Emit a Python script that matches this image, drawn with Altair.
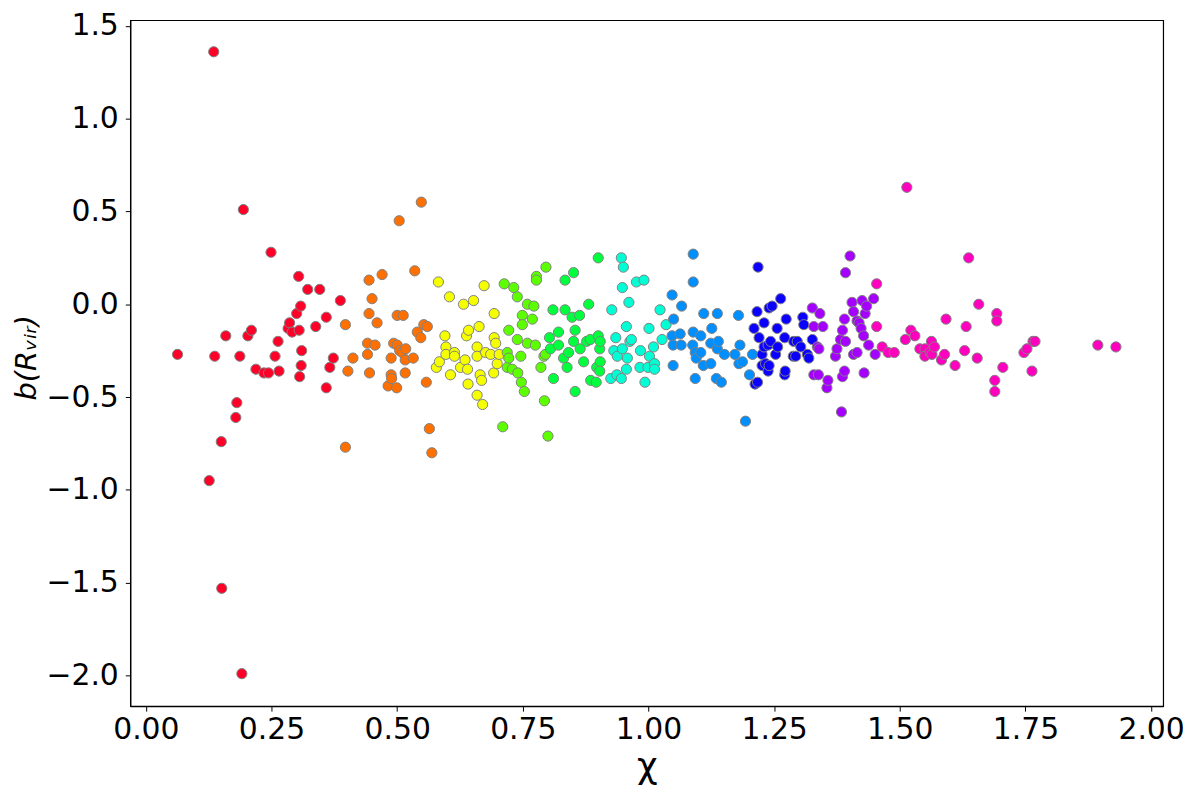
import altair as alt
import pandas as pd

# Colours: 10 bins of chi, gist_rainbow palette
group_names = ["g0", "g1", "g2", "g3", "g4", "g5", "g6", "g7", "g8", "g9"]
group_colors = ["#ff0029", "#ff7000", "#f5ff00", "#5cff00", "#00ff3d",
                "#00ffd5", "#008fff", "#0b00ff", "#a500ff", "#ff00bf"]

red_x = [0.063, 0.126, 0.135, 0.137, 0.150, 0.151, 0.159, 0.179, 0.181, 0.187, 0.191, 0.194, 0.203,
         0.210, 0.219, 0.235, 0.244, 0.249, 0.257, 0.263, 0.265, 0.283, 0.286, 0.291, 0.300, 0.304,
         0.305, 0.306, 0.308, 0.309, 0.310, 0.322, 0.338, 0.346, 0.359, 0.359, 0.366, 0.373, 0.387]
red_y = [-0.27, -0.95, 1.36, -0.28, -0.74, -1.53, -0.17, -0.61, -0.53, -0.28, -1.99, 0.51, -0.17,
         -0.14, -0.35, -0.37, -0.37, 0.28, -0.28, -0.20, -0.36, -0.13, -0.10, -0.15, -0.05, 0.15,
         -0.14, -0.39, -0.01, -0.33, -0.25, 0.08, -0.12, 0.08, -0.07, -0.45, -0.34, -0.29, 0.02]

orange_x = [0.397, 0.397, 0.402, 0.412, 0.441, 0.441, 0.444, 0.444, 0.445, 0.450, 0.456, 0.460, 0.470,
            0.482, 0.488, 0.488, 0.493, 0.499, 0.500, 0.500, 0.504, 0.505, 0.510, 0.512, 0.516, 0.516,
            0.517, 0.532, 0.535, 0.540, 0.547, 0.548, 0.553, 0.560, 0.558, 0.564, 0.569, 0.489]
orange_y = [-0.11, -0.77, -0.36, -0.29, -0.21, -0.27, 0.13, -0.05, -0.37, 0.03, -0.22, -0.10, 0.16,
            -0.44, -0.29, -0.38, -0.21, -0.45, -0.06, -0.22, 0.45, -0.25, -0.26, -0.06, -0.30, -0.37,
            -0.24, -0.29, 0.18, -0.15, -0.18, 0.55, -0.11, -0.12, -0.42, -0.67, -0.80, -0.40]

yellow_x = [0.578, 0.582, 0.584, 0.595, 0.597, 0.597, 0.604, 0.606, 0.614, 0.614, 0.626, 0.632, 0.635,
            0.638, 0.640, 0.641, 0.642, 0.652, 0.659, 0.659, 0.659, 0.663, 0.665, 0.668, 0.670, 0.673,
            0.676, 0.686, 0.692, 0.693, 0.693, 0.696, 0.699, 0.703]
yellow_y = [-0.34, 0.12, -0.31, -0.17, -0.23, -0.27, 0.04, -0.38, -0.26, -0.28, -0.34, 0.00, -0.30,
            -0.17, -0.35, -0.43, -0.14, 0.02, -0.23, -0.28, -0.49, -0.12, -0.38, -0.41, -0.54, 0.10,
            -0.26, -0.27, -0.37, -0.05, -0.18, -0.21, -0.32, -0.27]

lime_x = [0.710, 0.713, 0.719, 0.719, 0.722, 0.722, 0.729, 0.732, 0.739, 0.739, 0.740, 0.746, 0.747,
          0.749, 0.749, 0.753, 0.759, 0.759, 0.769, 0.772, 0.775, 0.777, 0.777, 0.786, 0.792, 0.793,
          0.795, 0.796, 0.800]
lime_y = [-0.66, 0.11, -0.26, -0.34, -0.14, -0.29, -0.35, 0.09, 0.04, -0.19, -0.37, -0.28, -0.42,
          -0.06, -0.11, -0.47, 0.00, -0.21, -0.08, -0.01, -0.22, 0.15, 0.13, -0.34, -0.28, -0.52,
          -0.27, 0.20, -0.71]

green_x = [0.803, 0.805, 0.810, 0.811, 0.821, 0.821, 0.831, 0.834, 0.834, 0.838, 0.841, 0.848, 0.851,
           0.851, 0.854, 0.854, 0.863, 0.864, 0.871, 0.877, 0.881, 0.884, 0.885, 0.896, 0.897, 0.900,
           0.900, 0.903, 0.904, 0.904, 0.903]
green_y = [-0.18, -0.24, -0.03, -0.40, -0.15, -0.22, -0.29, 0.13, -0.03, -0.34, -0.26, -0.07, 0.17,
           -0.20, -0.14, -0.47, -0.06, -0.24, -0.31, -0.20, 0.00, -0.19, -0.41, -0.42, -0.34, 0.25,
           -0.17, -0.24, -0.20, -0.31, -0.36]

cyan_x = [0.925, 0.927, 0.931, 0.935, 0.937, 0.938, 0.946, 0.946, 0.948, 0.948, 0.950, 0.956, 0.956,
          0.958, 0.961, 0.963, 0.966, 0.976, 0.983, 0.984, 0.991, 0.993, 0.999, 1.001, 1.002, 1.010,
          1.012, 1.012, 1.023, 1.027, 1.035]
cyan_y = [-0.40, -0.03, -0.25, -0.18, -0.38, -0.28, 0.25, -0.40, 0.09, -0.24, 0.20, -0.12, -0.35,
          -0.29, 0.01, -0.20, -0.19, 0.12, -0.34, -0.25, 0.13, -0.42, -0.34, -0.13, -0.28, -0.23,
          -0.32, -0.35, -0.03, -0.19, -0.11]

azure_x = [1.047, 1.047, 1.049, 1.049, 1.050, 1.063, 1.065, 1.066, 1.088, 1.089, 1.089, 1.089, 1.093,
           1.093, 1.095, 1.104, 1.104, 1.109, 1.110, 1.124, 1.124, 1.126, 1.135, 1.137, 1.137, 1.139,
           1.145, 1.151, 1.172, 1.179, 1.180, 1.182, 1.187, 1.193, 1.201, 1.207]
azure_y = [0.05, -0.17, -0.22, -0.33, -0.08, -0.16, -0.22, -0.01, -0.22, 0.27, 0.12, -0.15, -0.26,
           -0.40, -0.29, -0.17, -0.26, -0.33, -0.05, -0.21, -0.32, -0.13, -0.40, -0.05, -0.24, -0.20,
           -0.42, -0.27, -0.27, -0.06, -0.32, -0.22, -0.31, -0.63, -0.38, -0.27]

blue_x = [1.210, 1.212, 1.216, 1.217, 1.218, 1.220, 1.226, 1.226, 1.230, 1.230, 1.233, 1.238, 1.238,
          1.240, 1.240, 1.243, 1.246, 1.253, 1.256, 1.257, 1.263, 1.271, 1.271, 1.272, 1.274, 1.288,
          1.289, 1.293, 1.296, 1.303, 1.307, 1.309, 1.316, 1.319, 1.326]
blue_y = [-0.13, -0.43, -0.04, -0.42, 0.20, -0.18, -0.27, -0.33, -0.10, -0.23, -0.32, -0.22, -0.36,
          -0.02, -0.33, -0.20, -0.01, -0.27, -0.13, -0.23, 0.03, -0.18, -0.38, -0.36, -0.08, -0.28,
          -0.20, -0.28, -0.20, -0.23, -0.07, -0.11, -0.27, -0.29, -0.19]

purple_x = [1.326, 1.329, 1.329, 1.336, 1.338, 1.339, 1.341, 1.347, 1.355, 1.357, 1.372, 1.375, 1.382,
            1.384, 1.386, 1.386, 1.390, 1.390, 1.392, 1.392, 1.401, 1.405, 1.408, 1.408, 1.415, 1.415,
            1.419, 1.423, 1.425, 1.428, 1.429, 1.431, 1.434, 1.438, 1.448, 1.451]
purple_y = [-0.02, -0.12, -0.38, -0.23, -0.38, -0.24, -0.05, -0.12, -0.45, -0.41, -0.28, -0.24, -0.19,
            -0.58, -0.14, -0.39, -0.08, -0.36, 0.17, -0.20, 0.26, 0.01, -0.04, -0.27, -0.09, -0.26,
            -0.10, -0.13, 0.02, -0.17, -0.37, -0.05, -0.01, -0.22, 0.03, -0.27]

magenta_x = [1.454, 1.454, 1.465, 1.477, 1.489, 1.511, 1.514, 1.522, 1.530, 1.540, 1.550, 1.550, 1.560,
             1.563, 1.564, 1.569, 1.583, 1.589, 1.592, 1.610, 1.629, 1.632, 1.637, 1.654, 1.657, 1.689,
             1.689, 1.693, 1.693, 1.705, 1.747, 1.753, 1.763, 1.765, 1.769, 1.894, 1.930]
magenta_y = [0.11, -0.12, -0.23, -0.26, -0.26, -0.19, 0.63, -0.14, -0.17, -0.24, -0.24, -0.28, -0.26,
             -0.20, -0.27, -0.23, -0.30, -0.27, -0.08, -0.33, -0.25, -0.12, 0.25, -0.29, 0.00, -0.41,
             -0.47, -0.05, -0.09, -0.34, -0.26, -0.24, -0.36, -0.20, -0.20, -0.22, -0.23]

x_ticks = [0.0, 0.25, 0.5, 0.75, 1.0, 1.25, 1.5, 1.75, 2.0]
y_ticks = [-2.0, -1.5, -1.0, -0.5, 0.0, 0.5, 1.0, 1.5]

groups = [(red_x, red_y), (orange_x, orange_y), (yellow_x, yellow_y), (lime_x, lime_y),
          (green_x, green_y), (cyan_x, cyan_y), (azure_x, azure_y), (blue_x, blue_y),
          (purple_x, purple_y), (magenta_x, magenta_y)]

rows = []
for name, (xs, ys) in zip(group_names, groups):
    for xv, yv in zip(xs, ys):
        rows.append({"chi": xv, "b": yv, "grp": name})
df = pd.DataFrame(rows)

W, H = 1039, 690

chart = alt.Chart(df).mark_point(
    shape="circle", filled=True, size=105, stroke="#808080", strokeWidth=1, opacity=1
).encode(
    x=alt.X("chi:Q",
            scale=alt.Scale(domain=[-0.031, 2.024], nice=False, zero=False),
            axis=alt.Axis(values=x_ticks, format=".2f", title="χ",
                          titleX=W / 2, titleY=72, titleBaseline="alphabetic",
                          titleFontSize=36, titleFont="DejaVu Sans", titleFontWeight="normal")),
    y=alt.Y("b:Q",
            scale=alt.Scale(domain=[-2.165, 1.53], nice=False, zero=False),
            axis=alt.Axis(values=y_ticks, format=".1f", title="b(Rᵥᵢᵣ)",
                          titleX=-95, titleY=339, titleAngle=270, titleBaseline="alphabetic",
                          titleAlign="center",
                          titleFontSize=29, titleFont="DejaVu Sans", titleFontStyle="italic",
                          titleFontWeight="normal")),
    color=alt.Color("grp:N", scale=alt.Scale(domain=group_names, range=group_colors), legend=None),
).properties(
    width=W, height=H,
    autosize=alt.AutoSizeParams(type="none"),
    padding={"left": 123, "top": 10, "right": 29, "bottom": 78},
).configure_view(
    stroke="black", strokeWidth=1.2
).configure_axis(
    grid=False, domainColor="black", domainWidth=1.2, tickColor="black", tickSize=5,
    tickWidth=1, labelColor="black", labelFont="DejaVu Sans", labelFontSize=30,
    titleColor="black"
).configure_axisX(
    labelPadding=4
).configure_axisY(
    labelPadding=7
)

chart.save("out.html", embed_options={"renderer": "svg", "actions": False})
